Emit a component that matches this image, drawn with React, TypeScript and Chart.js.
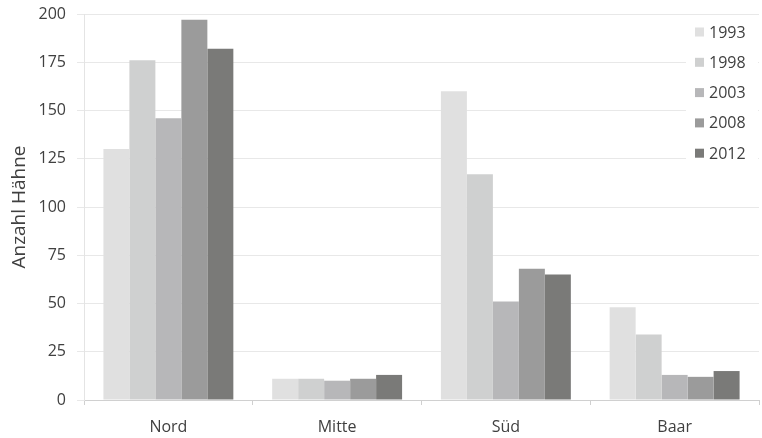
import React, { useEffect, useRef } from "react";
import { Chart, registerables } from "chart.js";

Chart.register(...registerables);

const categories = ["Nord", "Mitte", "Süd", "Baar"];
const years = ["1993", "1998", "2003", "2008", "2012"];
const values1993 = [130, 11, 160, 48];
const values1998 = [176, 11, 117, 34];
const values2003 = [146, 10, 51, 13];
const values2008 = [197, 11, 68, 12];
const values2012 = [182, 13, 65, 15];
const seriesValues = [values1993, values1998, values2003, values2008, values2012];
const colors = ["#e0e0e0", "#cfd0d0", "#b7b7b9", "#9b9b9b", "#7a7a78"];
const yTicks = [0, 25, 50, 75, 100, 125, 150, 175, 200];

const FONT = "'Open Sans', sans-serif";

const legendPlugin = {
  id: "boxLegend",
  afterDraw(chart: any) {
    const ctx = chart.ctx;
    ctx.save();
    ctx.fillStyle = "#ffffff";
    ctx.fillRect(686, 16, 72, 156);
    ctx.font = `16px ${FONT}`;
    ctx.textBaseline = "middle";
    ctx.textAlign = "left";
    years.forEach((y, i) => {
      const cy = 32 + i * 30.3;
      ctx.fillStyle = colors[i];
      ctx.fillRect(695, cy - 4.5, 9, 9);
      ctx.fillStyle = "#404040";
      ctx.fillText(y, 709, cy + 1);
    });
    ctx.restore();
  },
};

export default function App() {
  const ref = useRef<HTMLCanvasElement | null>(null);
  useEffect(() => {
    document.body.style.margin = "0";
    if (!ref.current) return;
    Chart.defaults.font.family = FONT;
    const chart = new Chart(ref.current, {
      type: "bar",
      data: {
        labels: categories,
        datasets: years.map((y, i) => ({
          label: y,
          data: seriesValues[i],
          backgroundColor: colors[i],
          borderWidth: 0,
          categoryPercentage: 0.77,
          barPercentage: 1,
        })),
      },
      options: {
        animation: false,
        responsive: false,
        devicePixelRatio: 1,
        layout: { padding: { top: 14, right: 3, left: 0, bottom: 0 } },
        plugins: { legend: { display: false }, tooltip: { enabled: false } },
        scales: {
          x: {
            grid: {
              offset: true,
              drawOnChartArea: false,
              tickLength: 5,
              color: "#d0d0d0",
            },
            border: { color: "#d0d0d0" },
            ticks: { color: "#404040", font: { size: 16 }, padding: 13 },
            afterFit(scale: any) {
              scale.height = 38;
              scale.paddingLeft = 0;
              scale.paddingRight = 0;
            },
          },
          y: {
            min: 0,
            max: 200,
            afterBuildTicks(scale: any) {
              scale.ticks = yTicks.map((v) => ({ value: v }));
            },
            grid: { color: "#e8e8e8", tickLength: 7 },
            border: { color: "#e4e4e4" },
            ticks: { color: "#404040", font: { size: 16 }, padding: 11 },
            title: {
              display: true,
              text: "Anzahl Hähne",
              color: "#404040",
              font: { size: 19 },
              padding: { top: 8, bottom: 4 },
            },
            afterFit(scale: any) {
              scale.width = 84;
              scale.paddingTop = 0;
              scale.paddingBottom = 0;
            },
          },
        },
      },
      plugins: [legendPlugin],
    });
    return () => chart.destroy();
  }, []);
  return (
    <div style={{ width: 762, height: 438 }}>
      <canvas ref={ref} width={762} height={438} style={{ width: 762, height: 438 }} />
    </div>
  );
}
